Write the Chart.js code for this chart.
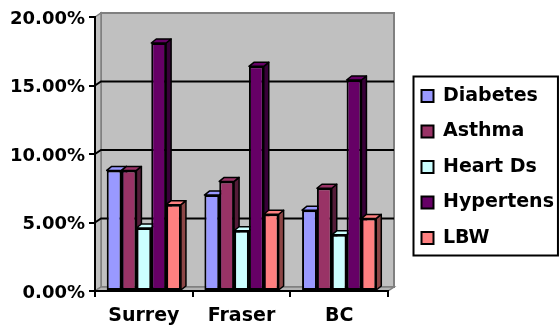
<!DOCTYPE html>
<html>
<head>
<meta charset="utf-8">
<script src="https://cdn.jsdelivr.net/npm/chart.js@4.4.1/dist/chart.umd.min.js"></script>
<style>
  html, body { margin: 0; padding: 0; background: #fff; }
  #wrap { width: 560px; height: 328px; }
</style>
</head>
<body>
<div id="wrap"><canvas id="rateChart"></canvas></div>
<script>
// categories + series (as fractions)
const regions = ['Surrey', 'Fraser', 'BC'];
const conditions = ['Diabetes', 'Asthma', 'Heart Ds', 'Hypertens', 'LBW'];
const diabetes = [0.088, 0.070, 0.059];
const asthma = [0.088, 0.080, 0.075];
const heartDs = [0.046, 0.044, 0.041];
const hypertens = [0.181, 0.164, 0.154];
const lbw = [0.063, 0.056, 0.053];
const yTicks = [0, 0.05, 0.10, 0.15, 0.20];
const barColors = ['#9999FF', '#993366', '#CCFFFF', '#660066', '#FF8080'];

const seriesList = [diabetes, asthma, heartDs, hypertens, lbw];
const FONT = 'DejaVu Sans';

function shade(hex, f) {
  const n = parseInt(hex.slice(1), 16);
  const r = Math.round(((n >> 16) & 255) * f);
  const g = Math.round(((n >> 8) & 255) * f);
  const b = Math.round((n & 255) * f);
  return `rgb(${r},${g},${b})`;
}

function poly(ctx, pts, fill, stroke, lw) {
  ctx.beginPath();
  ctx.moveTo(pts[0][0], pts[0][1]);
  for (let i = 1; i < pts.length; i++) ctx.lineTo(pts[i][0], pts[i][1]);
  ctx.closePath();
  if (fill) { ctx.fillStyle = fill; ctx.fill(); }
  if (stroke) { ctx.strokeStyle = stroke; ctx.lineWidth = lw; ctx.stroke(); }
}

// grey back wall, side wall, floor and the gridlines on the wall
const wall3d = {
  id: 'wall3d',
  beforeDraw(chart) {
    const { ctx, chartArea: a } = chart;
    const y = chart.scales.y;
    const dx = 6, dy = -4;
    ctx.save();
    poly(ctx, [[a.left + dx, a.top + dy], [a.right + dx, a.top + dy], [a.right + dx, a.bottom + dy], [a.left + dx, a.bottom + dy]], '#C0C0C0', '#808080', 2);
    poly(ctx, [[a.left, a.top], [a.left + dx, a.top + dy], [a.left + dx, a.bottom + dy], [a.left, a.bottom]], '#C0C0C0', '#808080', 1.5);
    poly(ctx, [[a.left, a.bottom], [a.left + dx, a.bottom + dy], [a.right + dx, a.bottom + dy], [a.right, a.bottom]], '#B4B4B4', '#808080', 1.5);
    ctx.strokeStyle = '#000';
    ctx.lineWidth = 2;
    y.ticks.forEach(t => {
      if (t.value <= 0 || t.value >= y.max) return;
      const py = y.getPixelForValue(t.value);
      ctx.beginPath();
      ctx.moveTo(a.left, py);
      ctx.lineTo(a.left + dx, py + dy);
      ctx.lineTo(a.right + dx, py + dy);
      ctx.stroke();
    });
    ctx.restore();
  }
};

// fake depth on the bars: side and top faces, fronts come from chart.js
const bar3d = {
  id: 'bar3d',
  beforeDatasetsDraw(chart) {
    const ctx = chart.ctx;
    const dx = 5, dy = -4;
    ctx.save();
    ctx.lineJoin = 'round';
    chart.data.datasets.forEach((ds, i) => {
      chart.getDatasetMeta(i).data.forEach(bar => {
        const { x, y, base, width } = bar.getProps(['x', 'y', 'base', 'width'], true);
        const l = x - width / 2, r = x + width / 2;
        poly(ctx, [[r, y], [r + dx, y + dy], [r + dx, base + dy], [r, base]], shade(ds.backgroundColor, 0.55), '#000', 1.5);
        poly(ctx, [[l, y], [l + dx, y + dy], [r + dx, y + dy], [r, y]], ds.backgroundColor, '#000', 1.5);
      });
    });
    ctx.restore();
  }
};

// black frame round the legend
const legendFrame = {
  id: 'legendFrame',
  afterDraw(chart) {
    const hb = chart.legend.legendHitBoxes;
    if (!hb || !hb.length) return;
    const ctx = chart.ctx;
    const left = Math.min(...hb.map(h => h.left)) - 8;
    const right = Math.max(...hb.map(h => h.left + h.width)) + 4;
    const top = hb[0].top - 10;
    const last = hb[hb.length - 1];
    const bottom = last.top + last.height + 8;
    ctx.save();
    ctx.strokeStyle = '#000';
    ctx.lineWidth = 2;
    ctx.strokeRect(left, top, right - left, bottom - top);
    ctx.restore();
  }
};

const ctx = document.getElementById('rateChart').getContext('2d');
new Chart(ctx, {
  type: 'bar',
  data: {
    labels: regions,
    datasets: conditions.map((name, i) => ({
      label: name,
      data: seriesList[i],
      backgroundColor: barColors[i],
      borderColor: '#000',
      borderWidth: 2,
      borderSkipped: false,
      categoryPercentage: 0.76,
      barPercentage: 1.0
    }))
  },
  options: {
    responsive: true,
    maintainAspectRatio: false,
    animation: false,
    layout: { padding: { top: 17, right: 0, bottom: 0, left: 0 } },
    scales: {
      x: {
        grid: { offset: true, drawOnChartArea: false, color: '#000', lineWidth: 2, tickLength: 6 },
        border: { color: '#000', width: 2 },
        ticks: { color: '#000', padding: 8, font: { family: FONT, size: 19, weight: 'bold' } },
        afterFit: s => { s.height = 37; }
      },
      y: {
        min: 0,
        max: 0.2,
        afterBuildTicks: s => { s.ticks = yTicks.map(v => ({ value: v })); },
        grid: { drawOnChartArea: false, color: '#000', lineWidth: 2, tickLength: 6 },
        border: { color: '#000', width: 2 },
        ticks: {
          color: '#000',
          padding: 4,
          labelOffset: 2,
          font: { family: FONT, size: 18, weight: 'bold' },
          callback: v => (v * 100).toFixed(2) + '%'
        },
        afterFit: s => { s.width = 95; }
      },
      gap: {
        type: 'linear',
        position: 'right',
        grid: { display: false, drawTicks: false },
        border: { display: false },
        ticks: { display: false },
        afterFit: s => { s.width = 17; }
      }
    },
    plugins: {
      legend: {
        position: 'right',
        align: 'start',
        maxWidth: 155,
        title: { display: true, text: '', font: { size: 10 }, padding: { top: 41, bottom: 0 } },
        labels: {
          color: '#000',
          boxWidth: 12,
          boxHeight: 12,
          padding: 16.5,
          font: { family: FONT, size: 19, weight: 'bold' }
        }
      },
      tooltip: { enabled: false }
    }
  },
  plugins: [wall3d, bar3d, legendFrame]
});
</script>
</body>
</html>
